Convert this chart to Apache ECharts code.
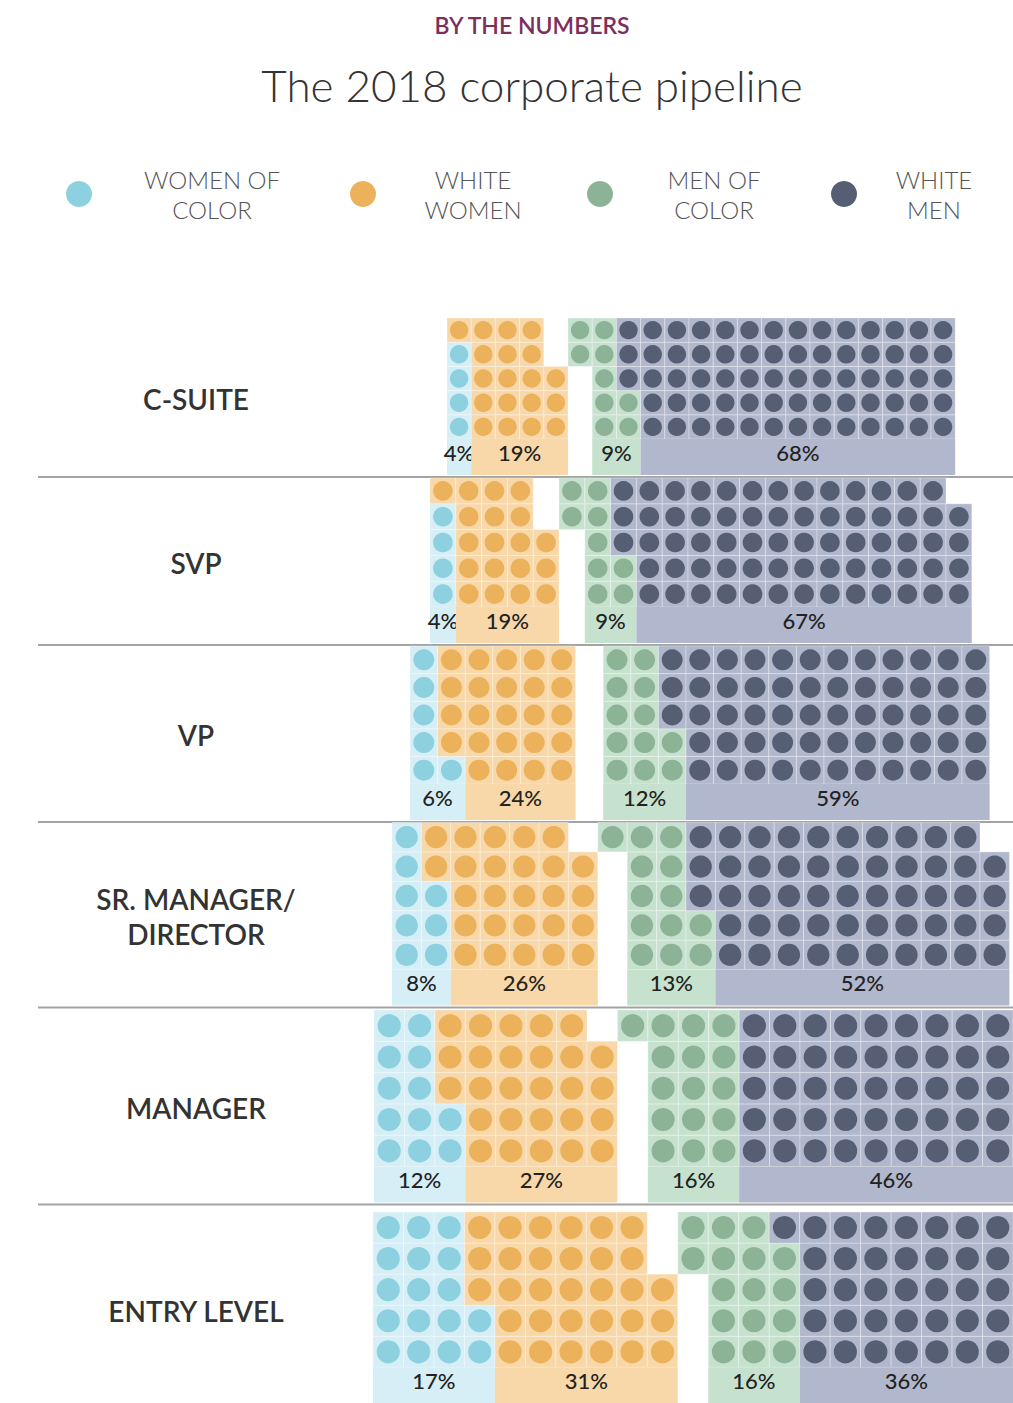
<!DOCTYPE html>
<html>
<head>
<meta charset="utf-8">
<title>The 2018 corporate pipeline</title>
<script src="https://cdn.jsdelivr.net/npm/echarts@6/dist/echarts.min.js"></script>
<style>
  html, body { margin: 0; padding: 0; background: #fff; }
  #chart { width: 1013px; height: 1403px; }
</style>
</head>
<body>
<div id="chart"></div>
<script>
  // pipeline levels, top to bottom
  const tiers = ['C-SUITE', 'SVP', 'VP', 'SR. MANAGER/\nDIRECTOR', 'MANAGER', 'ENTRY LEVEL']
  const groups = ['WOMEN OF COLOR', 'WHITE WOMEN', 'MEN OF COLOR', 'WHITE MEN']

  // printed shares (%)
  const womenOfColor = [4, 4, 6, 8, 12, 17]
  const whiteWomen = [19, 19, 24, 26, 27, 31]
  const menOfColor = [9, 9, 12, 13, 16, 16]
  const whiteMen = [68, 67, 59, 52, 46, 36]

  // dots drawn per level (one dot per point), counted off the graphic
  const womenOfColorDots = [4, 4, 6, 8, 12, 17]
  const whiteWomenDots = [19, 19, 24, 26, 27, 31]
  const menOfColorDots = [9, 9, 12, 13, 16, 16]
  const whiteMenDots = [68, 67, 58, 52, 46, 36]

  const shares = [womenOfColor, whiteWomen, menOfColor, whiteMen]
  const dots = [womenOfColorDots, whiteWomenDots, menOfColorDots, whiteMenDots]

  const ROWS = 5
  const COLS = 21
  const GAP = 5 // empty cells between women and men
  const BAND = 36 // label strip under the dots

  // placement of each level's waffle
  const layout = [
    { left: 447, top: 318, cell: 24.2 },
    { left: 430, top: 478, cell: 25.8 },
    { left: 410, top: 646, cell: 27.6 },
    { left: 392, top: 822.5, cell: 29.4 },
    { left: 374, top: 1010, cell: 31.3 },
    { left: 373, top: 1212, cell: 31.4 }
  ]

  const dotColors = ['#8dd0df', '#ecb15b', '#8db397', '#565e74']
  const bgColors = ['#d6eff6', '#f8d8a9', '#c6e2cf', '#b1b7cc']
  const legendX = [79, 363, 600, 844]
  const legendTextX = [212, 473, 714, 934]
  const legendText = {
    'WOMEN OF COLOR': ['WOMEN OF', 'COLOR'],
    'WHITE WOMEN': ['WHITE', 'WOMEN'],
    'MEN OF COLOR': ['MEN OF', 'COLOR'],
    'WHITE MEN': ['WHITE', 'MEN']
  }
  const FONT = 'Lato, "Noto Sans", sans-serif'

  // cells run column by column, bottom to top, women first, then a gap, then men
  function buildCells(t) {
    const cells = [[], [], [], []]
    let k = 0
    groups.forEach((g, gi) => {
      if (gi === 2) k += GAP
      for (let i = 0; i < dots[gi][t]; i++, k++) {
        cells[gi].push([Math.floor(k / ROWS), ROWS - 1 - (k % ROWS)])
      }
    })
    return cells
  }

  function makeRender(t, g) {
    const bandUnits = BAND / layout[t].cell
    return function (params, api) {
      const x = api.value(0)
      const y = api.value(1)
      const w = api.value(2)
      const kind = api.value(3)
      const a = api.coord([x, y])
      const b = api.coord([x + w, y + (kind ? bandUnits : 1)])
      const shape = { x: a[0], y: a[1], width: b[0] - a[0], height: b[1] - a[1] }
      if (kind) {
        return {
          type: 'group',
          children: [
            { type: 'rect', shape, style: { fill: bgColors[g] } },
            {
              type: 'text',
              x: (a[0] + b[0]) / 2,
              y: (a[1] + b[1]) / 2 - 5,
              style: {
                text: shares[g][t] + '%',
                fill: '#222',
                fontSize: 22,
                fontWeight: 500,
                fontFamily: FONT,
                align: 'center',
                verticalAlign: 'middle'
              }
            }
          ]
        }
      }
      const size = shape.width
      return {
        type: 'group',
        children: [
          { type: 'rect', shape, style: { fill: bgColors[g], stroke: 'rgba(255,255,255,0.3)', lineWidth: 1 } },
          {
            type: 'circle',
            shape: { cx: a[0] + size / 2, cy: a[1] + shape.height / 2, r: size * 0.38 },
            style: { fill: dotColors[g] }
          }
        ]
      }
    }
  }

  const grid = []
  const xAxis = []
  const yAxis = []
  const series = []
  const graphic = [
    {
      type: 'text',
      x: 532,
      y: 25,
      style: {
        text: 'BY THE NUMBERS',
        fill: '#7d2f5c',
        font: '600 23px ' + FONT,
        textAlign: 'center',
        textVerticalAlign: 'middle'
      }
    },
    {
      type: 'text',
      x: 532,
      y: 85,
      style: {
        text: 'The 2018 corporate pipeline',
        fill: '#333',
        font: '300 44px ' + FONT,
        textAlign: 'center',
        textVerticalAlign: 'middle'
      }
    }
  ]

  tiers.forEach((name, t) => {
    const l = layout[t]
    const h = ROWS * l.cell + BAND
    grid.push({ left: l.left, top: l.top, width: COLS * l.cell, height: h })
    xAxis.push({ type: 'value', gridIndex: t, min: 0, max: COLS, show: false })
    yAxis.push({ type: 'value', gridIndex: t, min: 0, max: ROWS + BAND / l.cell, inverse: true, show: false })

    const cells = buildCells(t)
    cells.forEach((list, g) => {
      const bottom = list.filter((c) => c[1] === ROWS - 1).map((c) => c[0])
      const c0 = Math.min(...bottom)
      const c1 = Math.max(...bottom) + 1
      series.push({
        type: 'custom',
        name: groups[g],
        xAxisIndex: t,
        yAxisIndex: t,
        silent: true,
        itemStyle: { color: dotColors[g] },
        renderItem: makeRender(t, g),
        data: list.map((c) => [c[0], c[1], 1, 0]).concat([[c0, ROWS, c1 - c0, 1]])
      })
    })

    graphic.push({
      type: 'text',
      x: 196,
      y: l.top + h / 2 + 2,
      style: {
        text: name,
        fill: '#333',
        font: '600 28px ' + FONT,
        lineHeight: 35,
        textAlign: 'center',
        textVerticalAlign: 'middle'
      }
    })
    if (t < tiers.length - 1) {
      const ly = l.top + h + 2
      graphic.push({
        type: 'line',
        shape: { x1: 38, y1: ly, x2: 1013, y2: ly },
        style: { stroke: '#a3a3a3', lineWidth: 2 }
      })
    }
  })

  const legend = groups.map((name, i) => {
    const textLeft = legendX[i] + 13 + 5
    return {
      data: [name],
      left: legendX[i] - 13,
      top: 167,
      padding: 0,
      icon: 'circle',
      itemWidth: 26,
      itemHeight: 26,
      selectedMode: false,
      formatter: (n) => legendText[n].map((s) => '{t|' + s + '}').join('\n'),
      textStyle: {
        rich: {
          t: {
            width: 2 * (legendTextX[i] - textLeft),
            align: 'center',
            fontSize: 24,
            lineHeight: 30,
            fontWeight: 300,
            fontFamily: FONT,
            color: '#555'
          }
        }
      }
    }
  })

  const chart = echarts.init(document.getElementById('chart'), null, { renderer: 'svg' })
  chart.setOption({
    animation: false,
    legend,
    grid,
    xAxis,
    yAxis,
    series,
    graphic
  })
</script>
</body>
</html>
